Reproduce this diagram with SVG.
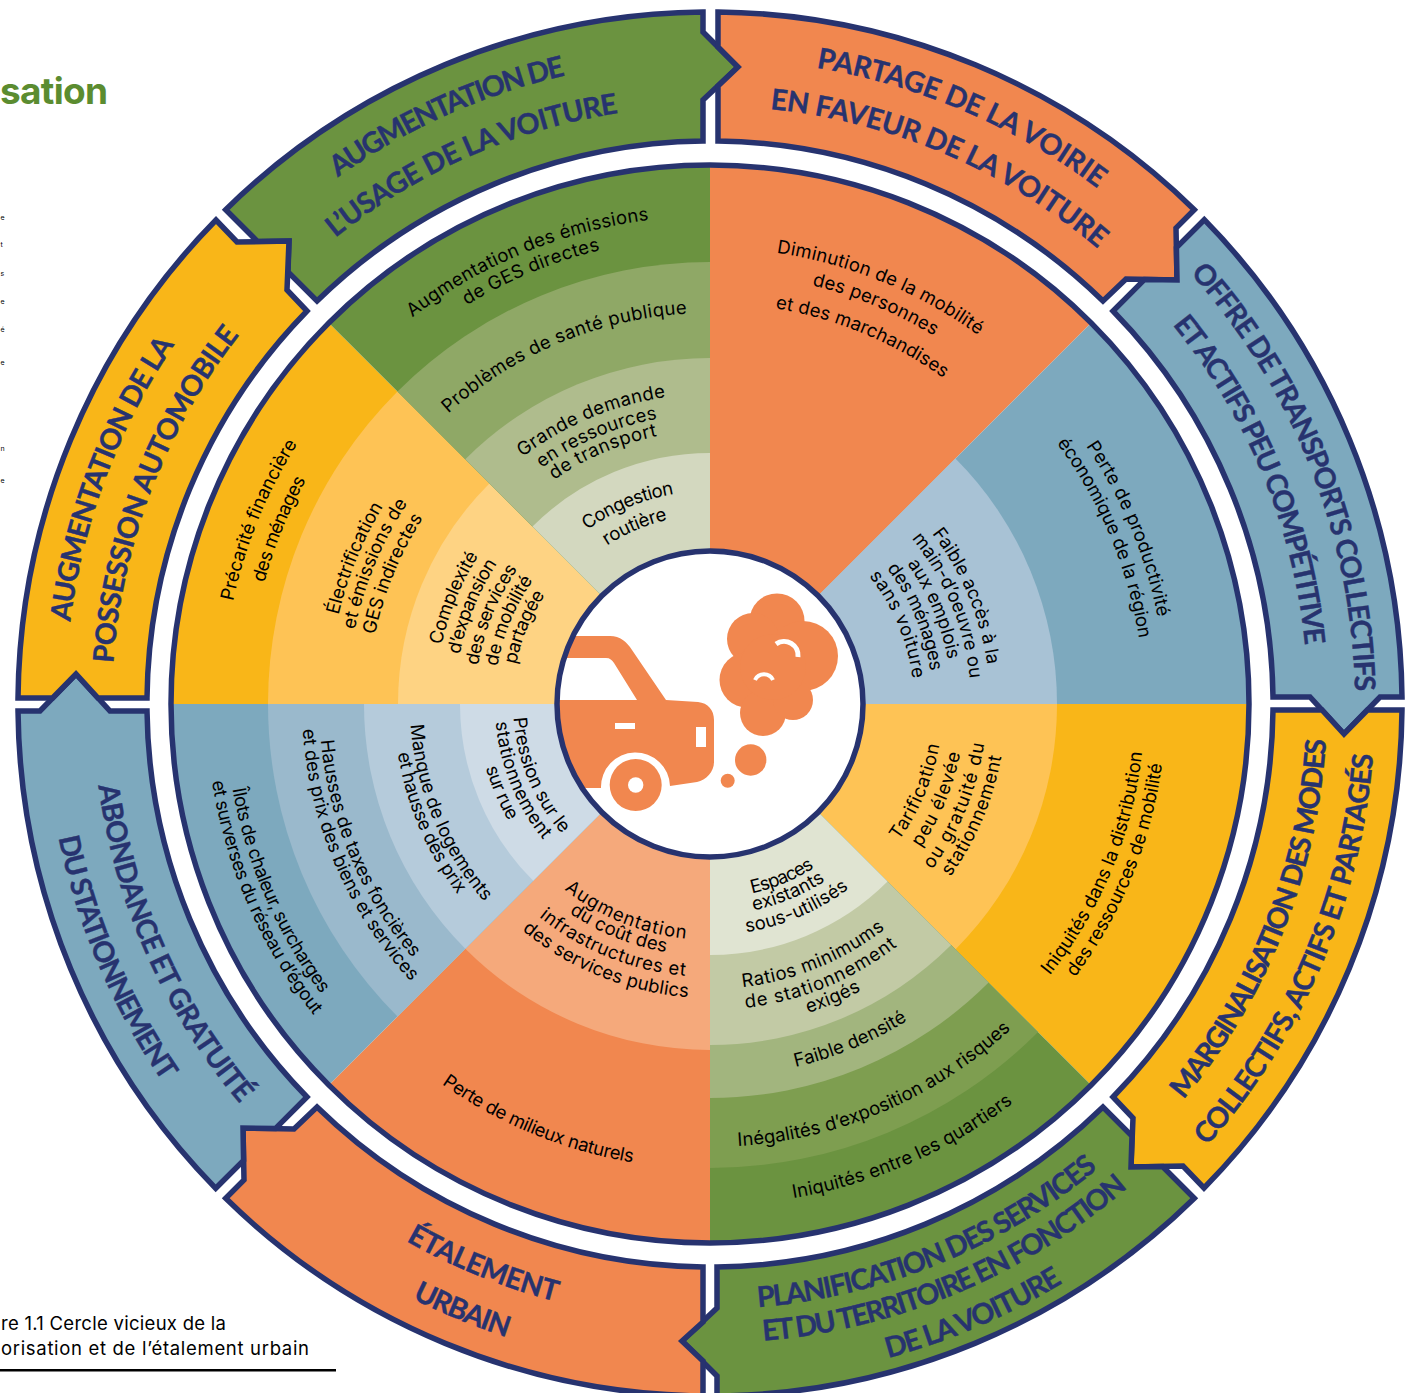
<svg xmlns="http://www.w3.org/2000/svg" width="1412" height="1393" viewBox="0 0 1412 1393">
<style>
.seg{stroke:#27336F;stroke-width:5.5;stroke-linejoin:miter}
.h{font-family:"Lato","Liberation Sans",sans-serif;font-weight:700;font-size:28.5px;fill:#27336F;stroke:#27336F;stroke-width:.4px;text-anchor:middle}
.b{font-family:"Inter","Liberation Sans",sans-serif;font-weight:400;font-size:18.5px;fill:#000;text-anchor:middle}
.o{fill:#F1874F}.g{fill:#6B9340}.bl{fill:#7DA9BE}.y{fill:#F9B618}
</style>
<defs>
<clipPath id="cc"><circle cx="710" cy="704" r="153"/></clipPath>
<path id="t645" d="M65 704A645 645 0 0 1 1355 704"/><path id="t598" d="M112 704A598 598 0 0 1 1308 704"/>
<path id="t488" d="M222 704A488 488 0 0 1 1198 704"/><path id="t467" d="M243 704A467 467 0 0 1 1177 704"/>
<path id="t391" d="M319 704A391 391 0 0 1 1101 704"/><path id="t310" d="M400 704A310 310 0 0 1 1020 704"/>
<path id="t290" d="M420 704A290 290 0 0 1 1000 704"/><path id="t273" d="M437 704A273 273 0 0 1 983 704"/>
<path id="t213" d="M497 704A213 213 0 0 1 923 704"/><path id="t189" d="M521 704A189 189 0 0 1 899 704"/>
<path id="t456" d="M254 704A456 456 0 0 1 1166 704"/><path id="t431" d="M279 704A431 431 0 0 1 1141 704"/>
<path id="t401" d="M309 704A401 401 0 0 1 1111 704"/><path id="t434" d="M276 704A434 434 0 0 1 1144 704"/>
<path id="t280" d="M430 704A280 280 0 0 1 990 704"/><path id="t261" d="M449 704A261 261 0 0 1 971 704"/>
<path id="t242" d="M468 704A242 242 0 0 1 952 704"/><path id="t223" d="M487 704A223 223 0 0 1 933 704"/>
<path id="t204" d="M506 704A204 204 0 0 1 914 704"/><path id="t462" d="M248 704A462 462 0 0 1 1172 704"/>
<path id="t382" d="M328 704A382 382 0 0 1 1092 704"/><path id="t363" d="M347 704A363 363 0 0 1 1073 704"/>
<path id="t342" d="M368 704A342 342 0 0 1 1052 704"/><path id="t275" d="M435 704A275 275 0 0 1 985 704"/>
<path id="t255" d="M455 704A255 255 0 0 1 965 704"/><path id="t235" d="M475 704A235 235 0 0 1 945 704"/>
<path id="t216" d="M494 704A216 216 0 0 1 926 704"/><path id="t198" d="M512 704A198 198 0 0 1 908 704"/>
<path id="b617" d="M93 704A617 617 0 0 0 1327 704"/><path id="b665" d="M45 704A665 665 0 0 0 1375 704"/>
<path id="b605" d="M105 704A605 605 0 0 0 1315 704"/><path id="b639" d="M71 704A639 639 0 0 0 1349 704"/>
<path id="b678" d="M32 704A678 678 0 0 0 1388 704"/><path id="b435" d="M275 704A435 435 0 0 0 1145 704"/>
<path id="b456" d="M254 704A456 456 0 0 0 1166 704"/><path id="b233" d="M477 704A233 233 0 0 0 943 704"/>
<path id="b255" d="M455 704A255 255 0 0 0 965 704"/><path id="b277" d="M433 704A277 277 0 0 0 987 704"/>
<path id="b296" d="M414 704A296 296 0 0 0 1006 704"/><path id="b194" d="M516 704A194 194 0 0 0 904 704"/>
<path id="b211" d="M499 704A211 211 0 0 0 921 704"/><path id="b231" d="M479 704A231 231 0 0 0 941 704"/>
<path id="b285" d="M425 704A285 285 0 0 0 995 704"/><path id="b306" d="M404 704A306 306 0 0 0 1016 704"/>
<path id="b324" d="M386 704A324 324 0 0 0 1034 704"/><path id="b373" d="M337 704A373 373 0 0 0 1083 704"/>
<path id="b443" d="M267 704A443 443 0 0 0 1153 704"/><path id="b501" d="M209 704A501 501 0 0 0 1211 704"/>
<path id="b236" d="M474 704A236 236 0 0 0 946 704"/><path id="b252" d="M458 704A252 252 0 0 0 962 704"/>
<path id="b273" d="M437 704A273 273 0 0 0 983 704"/><path id="b294" d="M416 704A294 294 0 0 0 1004 704"/>
<path id="b465" d="M245 704A465 465 0 0 0 1175 704"/><path id="b485" d="M225 704A485 485 0 0 0 1195 704"/>
<path id="b504" d="M206 704A504 504 0 0 0 1214 704"/><path id="b391" d="M319 704A391 391 0 0 0 1101 704"/>
<path id="b408" d="M302 704A408 408 0 0 0 1118 704"/><path id="b300" d="M410 704A300 300 0 0 0 1010 704"/>
<path id="b316" d="M394 704A316 316 0 0 0 1026 704"/><path id="b197" d="M513 704A197 197 0 0 0 907 704"/>
<path id="b215" d="M495 704A215 215 0 0 0 925 704"/>
</defs>

<g id="page-fragments">
<text x="0" y="104" font-family="Inter,'Liberation Sans',sans-serif" font-weight="700" font-size="37" fill="#5B8C30" textLength="108">sation</text>
<g font-family="Inter,'Liberation Sans',sans-serif" font-size="7" fill="#000">
<text x="0.5" y="220">e</text><text x="0.5" y="247">t</text><text x="0.5" y="276">s</text><text x="0.5" y="304">e</text><text x="0.5" y="332">é</text><text x="0.5" y="365">e</text><text x="0.5" y="451">n</text><text x="0.5" y="483">e</text>
</g>
<g id="caption" font-family="Inter,'Liberation Sans',sans-serif" font-size="18.5" fill="#000">
<text x="1" y="1330" textLength="225">re 1.1 Cercle vicieux de la</text>
<text x="1" y="1355" textLength="308">orisation et de l’étalement urbain</text>
</g>
<rect x="0" y="1369" width="336" height="2.5" fill="#000"/>
</g>

<g id="ring">
<g id="arrow-usage"><path class="seg g" d="M225.7 209.7A692 692 0 0 1 703 12V32L738 67 703 100V141A563 563 0 0 0 317 301L288 272 289 241 257.4 241.4Z"/>
<text class="h" transform="rotate(-24.1 710 704)"><textPath href="#t645" startOffset="50%" textLength="251">AUGMENTATION DE</textPath></text>
<text class="h" transform="rotate(-23.8 710 704)"><textPath href="#t598" startOffset="50%" textLength="313">L’USAGE DE LA VOITURE</textPath></text></g>
<g id="arrow-voirie"><path class="seg o" d="M718 12A692 692 0 0 1 1194.3 209.7L1176 228 1177 280 1126 279 1103 301A563 563 0 0 0 718 141V86L738 67 718 47Z"/>
<text class="h" transform="rotate(23.2 710 704)"><textPath href="#t645" startOffset="50%" textLength="309">PARTAGE DE LA VOIRIE</textPath></text>
<text class="h" transform="rotate(23.1 710 704)"><textPath href="#t598" startOffset="50%" textLength="362">EN FAVEUR DE LA VOITURE</textPath></text></g>
<g id="arrow-offre"><path class="seg bl" d="M1204.3 219.7A692 692 0 0 1 1402 697H1380L1344 734 1310 697H1273A563 563 0 0 0 1113 311L1144.6 279.4 1177 280 1176.4 247.6Z"/>
<text class="h" transform="rotate(68.5 710 704)"><textPath href="#t645" startOffset="50%" textLength="459">OFFRE DE TRANSPORTS COLLECTIFS</textPath></text>
<text class="h" transform="rotate(67.5 710 704)"><textPath href="#t598" startOffset="50%" textLength="352">ET ACTIFS PEU COMPÉTITIVE</textPath></text></g>
<g id="arrow-marginalisation"><path class="seg y" d="M1402 710A692 692 0 0 1 1204 1188L1183 1166 1131 1167 1133 1118 1113 1097A563 563 0 0 0 1273 710H1322L1344 734 1367.4 710Z"/>
<text class="h" transform="rotate(-68.4 710 704)"><textPath href="#b617" startOffset="50%" textLength="394">MARGINALISATION DES MODES</textPath></text>
<text class="h" transform="rotate(-67 710 704)"><textPath href="#b665" startOffset="50%" textLength="433">COLLECTIFS, ACTIFS ET PARTAGÉS</textPath></text></g>
<g id="arrow-planification"><path class="seg g" d="M1194.3 1198.3A692 692 0 0 1 717 1396V1376L682 1341 717 1308V1267A563 563 0 0 0 1103 1107L1132 1136 1131 1167 1162.6 1166.6Z"/>
<text class="h" transform="rotate(-22.2 710 704)"><textPath href="#b605" startOffset="50%" textLength="373">PLANIFICATION DES SERVICES</textPath></text>
<text class="h" transform="rotate(-22.8 710 704)"><textPath href="#b639" startOffset="50%" textLength="402">ET DU TERRITOIRE EN FONCTION</textPath></text>
<text class="h" transform="rotate(-23.3 710 704)"><textPath href="#b678" startOffset="50%" textLength="191">DE LA VOITURE</textPath></text></g>
<g id="arrow-etalement"><path class="seg o" d="M703 1396A692 692 0 0 1 225.7 1198.3L244 1180 243 1128 294 1129 317 1107A563 563 0 0 0 703 1267V1322L682 1341 703 1361Z"/>
<text class="h" transform="rotate(22 710 704)"><textPath href="#b617" startOffset="50%" textLength="162">ÉTALEMENT</textPath></text>
<text class="h" transform="rotate(22.2 710 704)"><textPath href="#b665" startOffset="50%" textLength="102">URBAIN</textPath></text></g>
<g id="arrow-abondance"><path class="seg bl" d="M215.7 1188.3A692 692 0 0 1 18 711H40L76 674 110 711H147A563 563 0 0 0 307 1097L275.4 1128.6 243 1128 243.6 1160.4Z"/>
<text class="h" transform="rotate(66 710 704)"><textPath href="#b617" startOffset="50%" textLength="353">ABONDANCE ET GRATUITÉ</textPath></text>
<text class="h" transform="rotate(66.9 710 704)"><textPath href="#b665" startOffset="50%" textLength="267">DU STATIONNEMENT</textPath></text></g>
<g id="arrow-possession"><path class="seg y" d="M18 698A692 692 0 0 1 216 220L237 242 289 241 287 290 307 311A563 563 0 0 0 147 698H98L76 674 52.6 698Z"/>
<text class="h" transform="rotate(-69.4 710 704)"><textPath href="#t645" startOffset="50%" textLength="299">AUGMENTATION DE LA</textPath></text>
<text class="h" transform="rotate(-69 710 704)"><textPath href="#t598" startOffset="50%" textLength="357">POSSESSION AUTOMOBILE</textPath></text></g>
</g>

<g id="wheel">
<g id="sector-mobilite">
<path class="o" d="M710 704V165A539 539 0 0 1 1091.1 322.9Z"/>
<text class="b" transform="rotate(22.2 710 704)"><textPath href="#t456" startOffset="50%" textLength="220">Diminution de la mobilité</textPath></text>
<text class="b" transform="rotate(22.5 710 704)"><textPath href="#t431" startOffset="50%" textLength="133">des personnes</textPath></text>
<text class="b" transform="rotate(22.5 710 704)"><textPath href="#t401" startOffset="50%" textLength="184">et des marchandises</textPath></text>
</g>
<g id="sector-productivite">
<path class="bl" d="M710 704L1091.1 322.9A539 539 0 0 1 1249 704Z"/>
<path fill="#A8C2D5" d="M710 704L955.4 458.6A347 347 0 0 1 1057 704Z"/>
<text class="b" transform="rotate(67.3 710 704)"><textPath href="#t456" startOffset="50%" textLength="187">Perte de productivité</textPath></text>
<text class="b" transform="rotate(67.2 710 704)"><textPath href="#t434" startOffset="50%" textLength="214">économique de la région</textPath></text>
<text class="b" transform="rotate(67.2 710 704)"><textPath href="#t280" startOffset="50%" textLength="144">Faible accès à la</textPath></text>
<text class="b" transform="rotate(67.5 710 704)"><textPath href="#t261" startOffset="50%" textLength="154">main-d’oeuvre ou</textPath></text>
<text class="b" transform="rotate(67 710 704)"><textPath href="#t242" startOffset="50%" textLength="105">aux emplois</textPath></text>
<text class="b" transform="rotate(67 710 704)"><textPath href="#t223" startOffset="50%" textLength="113">des ménages</textPath></text>
<text class="b" transform="rotate(67 710 704)"><textPath href="#t204" startOffset="50%" textLength="113">sans voiture</textPath></text>
</g>
<g id="sector-iniquites">
<path class="y" d="M710 704H1249A539 539 0 0 1 1091.1 1085.1Z"/>
<path fill="#FEC355" d="M710 704H1057A347 347 0 0 1 955.4 949.4Z"/>
<text class="b" transform="rotate(-67.5 710 704)"><textPath href="#b435" startOffset="50%" textLength="245">Iniquités dans la distribution</textPath></text>
<text class="b" transform="rotate(-67.8 710 704)"><textPath href="#b456" startOffset="50%" textLength="233">des ressources de mobilité</textPath></text>
<text class="b" transform="rotate(-67 710 704)"><textPath href="#b233" startOffset="50%" textLength="105">Tarification</textPath></text>
<text class="b" transform="rotate(-67.3 710 704)"><textPath href="#b255" startOffset="50%" textLength="103">peu élevée</textPath></text>
<text class="b" transform="rotate(-67.5 710 704)"><textPath href="#b277" startOffset="50%" textLength="138">ou gratuité du</textPath></text>
<text class="b" transform="rotate(-67 710 704)"><textPath href="#b296" startOffset="50%" textLength="132">stationnement</textPath></text>
</g>
<g id="sector-quartiers">
<path class="g" d="M710 704L1091.1 1085.1A539 539 0 0 1 710 1243Z"/>
<path fill="#7E9E50" d="M710 704L1038.1 1032.1A464 464 0 0 1 710 1168Z"/>
<path fill="#A2B57E" d="M710 704L988.6 982.6A394 394 0 0 1 710 1098Z"/>
<path fill="#C2CAA5" d="M710 704L951.1 945.1A341 341 0 0 1 710 1045Z"/>
<path fill="#E0E4D2" d="M710 704L887.5 881.5A251 251 0 0 1 710 955Z"/>
<text class="b" transform="rotate(-22.5 710 704)"><textPath href="#b194" startOffset="50%" textLength="68">Espaces</textPath></text>
<text class="b" transform="rotate(-22.5 710 704)"><textPath href="#b211" startOffset="50%" textLength="78">existants</textPath></text>
<text class="b" transform="rotate(-23 710 704)"><textPath href="#b231" startOffset="50%" textLength="113">sous-utilisés</textPath></text>
<text class="b" transform="rotate(-22.2 710 704)"><textPath href="#b285" startOffset="50%" textLength="156">Ratios minimums</textPath></text>
<text class="b" transform="rotate(-22.2 710 704)"><textPath href="#b306" startOffset="50%" textLength="166">de stationnement</textPath></text>
<text class="b" transform="rotate(-22.7 710 704)"><textPath href="#b324" startOffset="50%" textLength="58">exigés</textPath></text>
<text class="b" transform="rotate(-22.6 710 704)"><textPath href="#b373" startOffset="50%" textLength="122">Faible densité</textPath></text>
<text class="b" transform="rotate(-23.2 710 704)"><textPath href="#b443" startOffset="50%" textLength="303">Inégalités d’exposition aux risques</textPath></text>
<text class="b" transform="rotate(-23.4 710 704)"><textPath href="#b501" startOffset="50%" textLength="242">Iniquités entre les quartiers</textPath></text>
</g>
<g id="sector-milieux">
<path class="o" d="M710 704V1243A539 539 0 0 1 328.9 1085.1Z"/>
<path fill="#F5A97B" d="M710 704V1050A346 346 0 0 1 465.3 948.7Z"/>
<text class="b" transform="rotate(22 710 704)"><textPath href="#b236" startOffset="50%" textLength="133">Augmentation</textPath></text>
<text class="b" transform="rotate(22 710 704)"><textPath href="#b252" startOffset="50%" textLength="105">du coût des</textPath></text>
<text class="b" transform="rotate(22 710 704)"><textPath href="#b273" startOffset="50%" textLength="160">infrastructures et</textPath></text>
<text class="b" transform="rotate(22 710 704)"><textPath href="#b294" startOffset="50%" textLength="182">des services publics</textPath></text>
<text class="b" transform="rotate(22.4 710 704)"><textPath href="#b465" startOffset="50%" textLength="208">Perte de milieux naturels</textPath></text>
</g>
<g id="sector-logement">
<path class="bl" d="M710 704L328.9 1085.1A539 539 0 0 1 171 704Z"/>
<path fill="#9AB9CC" d="M710 704L397.5 1016.5A442 442 0 0 1 268 704Z"/>
<path fill="#B5CBDB" d="M710 704L465.3 948.7A346 346 0 0 1 364 704Z"/>
<path fill="#CEDBE6" d="M710 704L533.2 880.8A250 250 0 0 1 460 704Z"/>
<text class="b" transform="rotate(66.6 710 704)"><textPath href="#b485" startOffset="50%" textLength="225">Îlots de chaleur, surcharges</textPath></text>
<text class="b" transform="rotate(66.5 710 704)"><textPath href="#b504" startOffset="50%" textLength="258">et surverses du réseau d’égout</textPath></text>
<text class="b" transform="rotate(67.1 710 704)"><textPath href="#b391" startOffset="50%" textLength="240">Hausses de taxes foncières</textPath></text>
<text class="b" transform="rotate(66.8 710 704)"><textPath href="#b408" startOffset="50%" textLength="280">et des prix des biens et services</textPath></text>
<text class="b" transform="rotate(67.4 710 704)"><textPath href="#b300" startOffset="50%" textLength="195">Manque de logements</textPath></text>
<text class="b" transform="rotate(67 710 704)"><textPath href="#b316" startOffset="50%" textLength="155">et hausse des prix</textPath></text>
<text class="b" transform="rotate(67.4 710 704)"><textPath href="#b197" startOffset="50%" textLength="128">Pression sur le</textPath></text>
<text class="b" transform="rotate(68 710 704)"><textPath href="#b215" startOffset="50%" textLength="129">stationnement</textPath></text>
<text class="b" transform="rotate(67 710 704)"><textPath href="#b233" startOffset="50%" textLength="58">sur rue</textPath></text>
</g>
<g id="sector-precarite">
<path class="y" d="M710 704H171A539 539 0 0 1 328.9 322.9Z"/>
<path fill="#FEC355" d="M710 704H268A442 442 0 0 1 397.5 391.5Z"/>
<path fill="#FED383" d="M710 704H398A312 312 0 0 1 489.4 483.4Z"/>
<text class="b" transform="rotate(-67.8 710 704)"><textPath href="#t488" startOffset="50%" textLength="171">Précarité financière</textPath></text>
<text class="b" transform="rotate(-67.9 710 704)"><textPath href="#t462" startOffset="50%" textLength="111">des ménages</textPath></text>
<text class="b" transform="rotate(-67.7 710 704)"><textPath href="#t382" startOffset="50%" textLength="118">Électrification</textPath></text>
<text class="b" transform="rotate(-67.3 710 704)"><textPath href="#t363" startOffset="50%" textLength="138">et émissions de</textPath></text>
<text class="b" transform="rotate(-67.7 710 704)"><textPath href="#t342" startOffset="50%" textLength="127">GES indirectes</textPath></text>
<text class="b" transform="rotate(-67.5 710 704)"><textPath href="#t275" startOffset="50%" textLength="97">Complexité</textPath></text>
<text class="b" transform="rotate(-67.7 710 704)"><textPath href="#t255" startOffset="50%" textLength="99">d’expansion</textPath></text>
<text class="b" transform="rotate(-67.8 710 704)"><textPath href="#t235" startOffset="50%" textLength="105">des services</textPath></text>
<text class="b" transform="rotate(-67.5 710 704)"><textPath href="#t216" startOffset="50%" textLength="94">de mobilité</textPath></text>
<text class="b" transform="rotate(-67.5 710 704)"><textPath href="#t198" startOffset="50%" textLength="76">partagée</textPath></text>
</g>
<g id="sector-emissions">
<path class="g" d="M710 704L328.9 322.9A539 539 0 0 1 710 165Z"/>
<path fill="#8FA866" d="M710 704L397.5 391.5A442 442 0 0 1 710 262Z"/>
<path fill="#AFBC8D" d="M710 704L465.3 459.3A346 346 0 0 1 710 358Z"/>
<path fill="#D3D8BF" d="M710 704L532.5 526.5A251 251 0 0 1 710 453Z"/>
<text class="b" transform="rotate(-22.4 710 704)"><textPath href="#t488" startOffset="50%" textLength="259">Augmentation des émissions</textPath></text>
<text class="b" transform="rotate(-22.5 710 704)"><textPath href="#t467" startOffset="50%" textLength="145">de GES directes</textPath></text>
<text class="b" transform="rotate(-22.7 710 704)"><textPath href="#t391" startOffset="50%" textLength="264">Problèmes de santé publique</textPath></text>
<text class="b" transform="rotate(-22.7 710 704)"><textPath href="#t310" startOffset="50%" textLength="157">Grande demande</textPath></text>
<text class="b" transform="rotate(-23 710 704)"><textPath href="#t290" startOffset="50%" textLength="127">en ressources</textPath></text>
<text class="b" transform="rotate(-23 710 704)"><textPath href="#t273" startOffset="50%" textLength="113">de transport</textPath></text>
<text class="b" transform="rotate(-22.5 710 704)"><textPath href="#t213" startOffset="50%" textLength="95">Congestion</textPath></text>
<text class="b" transform="rotate(-23 710 704)"><textPath href="#t189" startOffset="50%" textLength="66">routière</textPath></text>
</g>
<circle cx="710" cy="704" r="539" fill="none" stroke="#27336F" stroke-width="5.5"/>
</g>

<g id="centre">
<circle cx="710" cy="704" r="153" fill="#fff"/>
<g clip-path="url(#cc)" fill="#F1874F">
<path d="M550 636H610C620 636 627 642 632 650L666 700 698 702C708 703 714 710 714 720V762C714 772 706 780 697 782L670 786A34.5 34.5 0 0 0 601 788H540V700H637L614 663C612 660 610 658 606 658H550Z"/>
<circle cx="635.7" cy="785" r="26"/>
</g>
<circle cx="635.7" cy="785" r="7.7" fill="#fff"/>
<rect x="615" y="723" width="20" height="6" fill="#fff"/>
<rect x="696" y="727" width="10" height="20" fill="#fff"/>
<g fill="#F1874F">
<circle cx="750.7" cy="760" r="15.7"/><circle cx="727.7" cy="780.7" r="7"/>
<circle cx="777" cy="621" r="27.5"/><circle cx="753" cy="639" r="26"/><circle cx="803" cy="656" r="35"/><circle cx="747" cy="680" r="27.5"/><circle cx="763" cy="713" r="23"/><circle cx="793" cy="700" r="20"/><circle cx="773" cy="667" r="33"/>
</g>
<path d="M776 644A14 14 0 0 1 798 657" fill="none" stroke="#fff" stroke-width="5"/>
<path d="M755 680A10 10 0 0 1 773 680" fill="none" stroke="#fff" stroke-width="4"/>
<circle cx="710" cy="704" r="153" fill="none" stroke="#27336F" stroke-width="5.5"/>
</g>
</svg>
